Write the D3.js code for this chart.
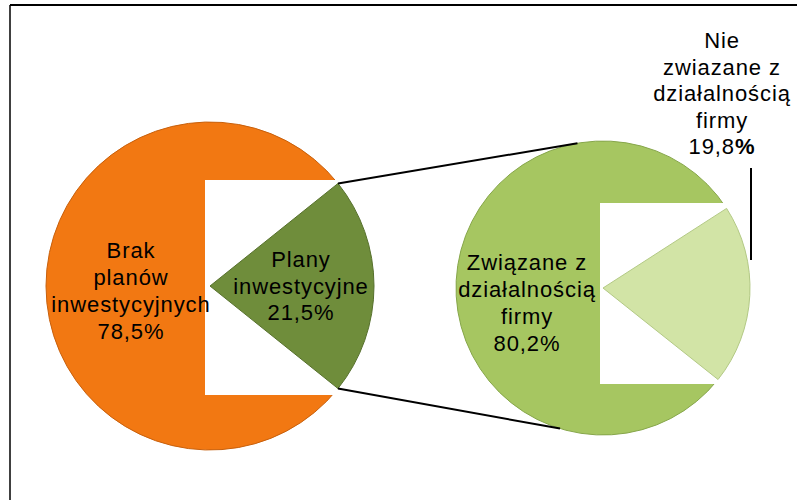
<!DOCTYPE html>
<html><head><meta charset="utf-8">
<script src="https://cdn.jsdelivr.net/npm/d3@7"></script>
<style>
html,body{margin:0;padding:0;background:#fff;}
svg{display:block;}
text{font-family:"Liberation Sans",Arial,sans-serif;font-size:22px;fill:#000;letter-spacing:0.9px;}
</style></head>
<body>
<svg id="c" width="797" height="500"></svg>
<script>
// ---- data ----
const mainCategories = ["Brak planów inwestycyjnych", "Plany inwestycyjne"];
const mainValues = [78.5, 21.5];
const mainLabelLines = [["Brak", "planów", "inwestycyjnych", "78,5%"], ["Plany", "inwestycyjne", "21,5%"]];
const subCategories = ["Związane z działalnością firmy", "Nie zwiazane z działalnością firmy"];
const subValues = [80.2, 19.8];
const subLabelLines = [["Związane z", "działalnością", "firmy", "80,2%"], ["Nie", "zwiazane z", "działalnością", "firmy", "19,8"]];

const mainColors = ["#F27812", "#6F8D3B"];
const subColors = ["#A6C661", "#D2E4A6"];
const mainStroke = ["#C8600C", "#56702C"];
const subStroke = ["#86A64A", "#B3C985"];

const svg = d3.select("#c");

// frame
svg.append("line").attr("x1", 10).attr("y1", 5).attr("x2", 797).attr("y2", 5).attr("stroke", "#000").attr("stroke-width", 2);
svg.append("line").attr("x1", 10).attr("y1", 5).attr("x2", 10).attr("y2", 500).attr("stroke", "#000").attr("stroke-width", 1.5);

const deg = Math.PI / 180;

// ---- main pie ----
const mc = {x: 210, y: 286, r: 164};
const mainTotal = d3.sum(mainValues);
const mainHalf = mainValues[1] / mainTotal * Math.PI;
const mainPie = d3.pie().sort(null).startAngle(Math.PI / 2 + mainHalf).endAngle(Math.PI / 2 + mainHalf + 2 * Math.PI);
const mainArcs = mainPie(mainValues);
const mainArc = d3.arc().innerRadius(0).outerRadius(mc.r);
const gMain = svg.append("g").attr("transform", `translate(${mc.x},${mc.y})`);

gMain.append("path").attr("d", mainArc(mainArcs[0])).attr("fill", mainColors[0]).attr("stroke", mainStroke[0]).attr("stroke-width", 1);
// white label box artefact
gMain.append("rect").attr("x", 205 - mc.x).attr("y", 180 - mc.y).attr("width", 140).attr("height", 215).attr("fill", "#fff");
gMain.append("path").attr("d", mainArc(mainArcs[1])).attr("fill", mainColors[1]).attr("stroke", mainStroke[1]).attr("stroke-width", 1);

// ---- sub pie ----
const sc = {x: 603, y: 288, r: 147};
const subTotal = d3.sum(subValues);
const subStart = Math.PI / 2 + 38.5 * deg;
const subPie = d3.pie().sort(null).startAngle(subStart).endAngle(subStart + 2 * Math.PI);
const subArcs = subPie(subValues);
const subArc = d3.arc().innerRadius(0).outerRadius(sc.r);
const gSub = svg.append("g").attr("transform", `translate(${sc.x},${sc.y})`);
gSub.append("path").attr("d", subArc(subArcs[0])).attr("fill", subColors[0]).attr("stroke", subStroke[0]).attr("stroke-width", 1);
gSub.append("rect").attr("x", 600 - sc.x).attr("y", 203 - sc.y).attr("width", 160).attr("height", 181).attr("fill", "#fff");
gSub.append("path").attr("d", subArc(subArcs[1])).attr("fill", subColors[1]).attr("stroke", subStroke[1]).attr("stroke-width", 1);

// ---- connector lines ----
function pt(c, r, a) { return [c.x + r * Math.sin(a), c.y - r * Math.cos(a)]; }
const g1 = mainArcs[1];
const p1 = pt(mc, mc.r, g1.startAngle);
const p2 = pt(mc, mc.r, g1.endAngle);
const q1 = pt(sc, sc.r, -10 * deg);
const q2 = pt(sc, sc.r, 197 * deg);
svg.append("line").attr("x1", p1[0]).attr("y1", p1[1]).attr("x2", q1[0]).attr("y2", q1[1]).attr("stroke", "#000").attr("stroke-width", 2);
svg.append("line").attr("x1", p2[0]).attr("y1", p2[1]).attr("x2", q2[0]).attr("y2", q2[1]).attr("stroke", "#000").attr("stroke-width", 2);

// leader line for small sub slice label
svg.append("line").attr("x1", 751).attr("y1", 168).attr("x2", 751).attr("y2", 260).attr("stroke", "#000").attr("stroke-width", 2);

// ---- labels ----
function label(lines, cx, y0, lh, boldPct) {
  const t = svg.append("text").attr("text-anchor", "middle");
  lines.forEach((s, i) => {
    const ts = t.append("tspan").attr("x", cx).attr("y", y0 + i * lh).text(s);
    if (boldPct && i === lines.length - 1) {
      ts.append("tspan").attr("font-weight", "bold").text("%");
    }
  });
}
label(mainLabelLines[0], 131, 258, 27, false);
label(mainLabelLines[1], 301, 267, 26.5, false);
label(subLabelLines[0], 527, 270, 27, false);
label(subLabelLines[1], 722, 48, 26.5, true);
</script>
</body></html>
